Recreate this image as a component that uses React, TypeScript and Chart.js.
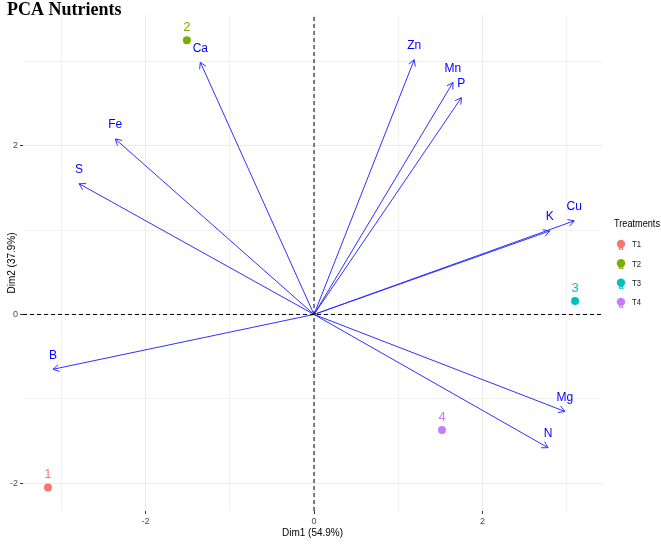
import React, { useEffect, useRef } from "react";
import { Chart, registerables } from "chart.js";
Chart.register(...registerables);

// Variable loadings (arrows)
const variables = ["Ca", "Zn", "Mn", "P", "K", "Cu", "Mg", "N", "B", "Fe", "S"];
const varDim1 = [-1.35, 1.19, 1.65, 1.75, 2.8, 3.09, 2.98, 2.78, -3.1, -2.36, -2.79];
const varDim2 = [2.99, 3.02, 2.75, 2.57, 0.99, 1.11, -1.15, -1.58, -0.65, 2.08, 1.55];

// Individuals (treatments)
const individuals = ["1", "2", "3", "4"];
const indDim1 = [-3.16, -1.51, 3.1, 1.52];
const indDim2 = [-2.05, 3.25, 0.16, -1.37];
const treatments = ["T1", "T2", "T3", "T4"];
const treatmentColors = ["#F8766D", "#7CAE00", "#00BFC4", "#C77CFF"];

// Axes
const axisTicks = [-3, -2, -1, 0, 1, 2, 3];
const labeledTicks = [-2, 0, 2];
const xRange = [-3.456, 3.42];
const yRange = [-2.33, 3.55];

const arrowColor = "#3030ff";
const labelBlue = "#0000ff";

const overlay = {
  id: "overlay",
  afterDatasetsDraw(chart: any) {
    const { ctx, scales } = chart;
    const x = scales.x;
    const y = scales.y;
    const ca = chart.chartArea;
    ctx.save();
    ctx.beginPath();
    ctx.rect(ca.left, ca.top, ca.right - ca.left, ca.bottom - ca.top);
    ctx.clip();
    const x0 = x.getPixelForValue(0);
    const y0 = y.getPixelForValue(0);
    variables.forEach((name, i) => {
      const x1 = x.getPixelForValue(varDim1[i]);
      const y1 = y.getPixelForValue(varDim2[i]);
      const ang = Math.atan2(y1 - y0, x1 - x0);
      const L = 7;
      const a = Math.PI / 6;
      ctx.beginPath();
      ctx.moveTo(x1 - L * Math.cos(ang - a), y1 - L * Math.sin(ang - a));
      ctx.lineTo(x1, y1);
      ctx.lineTo(x1 - L * Math.cos(ang + a), y1 - L * Math.sin(ang + a));
      ctx.strokeStyle = arrowColor;
      ctx.lineWidth = 1;
      ctx.stroke();
      ctx.fillStyle = labelBlue;
      ctx.font = "12px 'Liberation Sans'";
      ctx.textAlign = "center";
      ctx.textBaseline = "middle";
      ctx.fillText(name, x1, y1 - 14);
    });
    individuals.forEach((name, i) => {
      const px = x.getPixelForValue(indDim1[i]);
      const py = y.getPixelForValue(indDim2[i]);
      ctx.fillStyle = treatmentColors[i];
      ctx.font = "13px 'Liberation Sans'";
      ctx.textAlign = "center";
      ctx.textBaseline = "middle";
      ctx.fillText(name, px, py - 13);
    });
    ctx.restore();
  },
  afterDraw(chart: any) {
    const { ctx } = chart;
    ctx.save();
    // Title
    ctx.fillStyle = "#000";
    ctx.font = "bold 18px 'Liberation Serif'";
    ctx.textAlign = "left";
    ctx.textBaseline = "alphabetic";
    ctx.fillText("PCA Nutrients", 7, 15);
    // Legend
    ctx.font = "10px 'Liberation Sans'";
    ctx.textBaseline = "middle";
    ctx.fillStyle = "#000";
    ctx.fillText("Treatments", 614, 224, 46);
    treatments.forEach((t, i) => {
      const cy = 245 + i * 19.3;
      ctx.fillStyle = treatmentColors[i];
      ctx.beginPath();
      ctx.arc(621, cy - 1, 4.2, 0, Math.PI * 2);
      ctx.fill();
      ctx.font = "bold 9px 'Liberation Sans'";
      ctx.textAlign = "center";
      ctx.fillText("a", 621, cy + 2.5);
      ctx.fillStyle = "#1a1a1a";
      ctx.font = "9px 'Liberation Sans'";
      ctx.textAlign = "left";
      ctx.fillText(t, 632, cy, 9);
    });
    ctx.restore();
  },
};

const gridColor = (c: any) => (labeledTicks.includes(c.tick?.value) ? "#ebebeb" : "#f1f1f1");
const tickColor = (c: any) => (labeledTicks.includes(c.tick?.value) ? "#333333" : "rgba(0,0,0,0)");
const tickLabel = (v: any) => (labeledTicks.includes(Number(v)) ? String(v) : "");
const setTicks = (scale: any) => {
  scale.ticks = axisTicks.map((v) => ({ value: v }));
};

export default function App() {
  const ref = useRef<HTMLCanvasElement | null>(null);
  useEffect(() => {
    if (!ref.current) return;
    const arrowSets = variables.map((name, i) => ({
      label: name,
      data: [
        { x: 0, y: 0 },
        { x: varDim1[i], y: varDim2[i] },
      ],
      showLine: true,
      borderColor: arrowColor,
      borderWidth: 1,
      pointRadius: 0,
    }));
    const chart = new Chart(ref.current, {
      type: "scatter",
      data: {
        datasets: [
          {
            label: "h0",
            data: [
              { x: xRange[0], y: 0 },
              { x: xRange[1], y: 0 },
            ],
            showLine: true,
            borderColor: "#000",
            borderWidth: 1,
            borderDash: [4, 3],
            pointRadius: 0,
          },
          {
            label: "v0",
            data: [
              { x: 0, y: yRange[0] },
              { x: 0, y: yRange[1] },
            ],
            showLine: true,
            borderColor: "#000",
            borderWidth: 1,
            borderDash: [4, 3],
            pointRadius: 0,
          },
          ...arrowSets,
          {
            label: "individuals",
            data: individuals.map((_, i) => ({ x: indDim1[i], y: indDim2[i] })),
            pointRadius: 4,
            pointBackgroundColor: treatmentColors,
            pointBorderWidth: 0,
            borderColor: "rgba(0,0,0,0)",
          },
        ] as any,
      },
      options: {
        animation: false,
        responsive: true,
        maintainAspectRatio: false,
        layout: { padding: { left: 0, top: 15, right: 59, bottom: 0 } },
        plugins: { legend: { display: false }, tooltip: { enabled: false } },
        scales: {
          x: {
            type: "linear",
            min: xRange[0],
            max: xRange[1],
            afterBuildTicks: setTicks,
            afterFit: (s: any) => {
              s.height = 33;
            },
            border: { display: false },
            grid: { color: gridColor, tickColor: tickColor, tickLength: 3, lineWidth: 1 },
            ticks: {
              callback: tickLabel,
              autoSkip: false,
              maxRotation: 0,
              padding: 2,
              color: "#4d4d4d",
              font: { family: "'Liberation Sans'", size: 9 },
            },
            title: {
              display: true,
              text: "Dim1 (54.9%)",
              color: "#000",
              font: { family: "'Liberation Sans'", size: 10 },
              padding: { top: 0, bottom: 5 },
            },
          },
          y: {
            type: "linear",
            min: yRange[0],
            max: yRange[1],
            afterBuildTicks: setTicks,
            afterFit: (s: any) => {
              s.width = 23;
            },
            border: { display: false },
            grid: { color: gridColor, tickColor: tickColor, tickLength: 3, lineWidth: 1 },
            ticks: {
              callback: tickLabel,
              autoSkip: false,
              padding: 2,
              color: "#4d4d4d",
              font: { family: "'Liberation Sans'", size: 9 },
            },
            title: {
              display: true,
              text: "Dim2 (37.9%)",
              color: "#000",
              font: { family: "'Liberation Sans'", size: 10 },
              padding: { top: 6, bottom: 0 },
            },
          },
        },
      } as any,
      plugins: [overlay],
    });
    return () => chart.destroy();
  }, []);
  return (
    <div style={{ position: "absolute", left: 0, top: 0, width: 661, height: 544, background: "#fff" }}>
      <canvas ref={ref} />
    </div>
  );
}
